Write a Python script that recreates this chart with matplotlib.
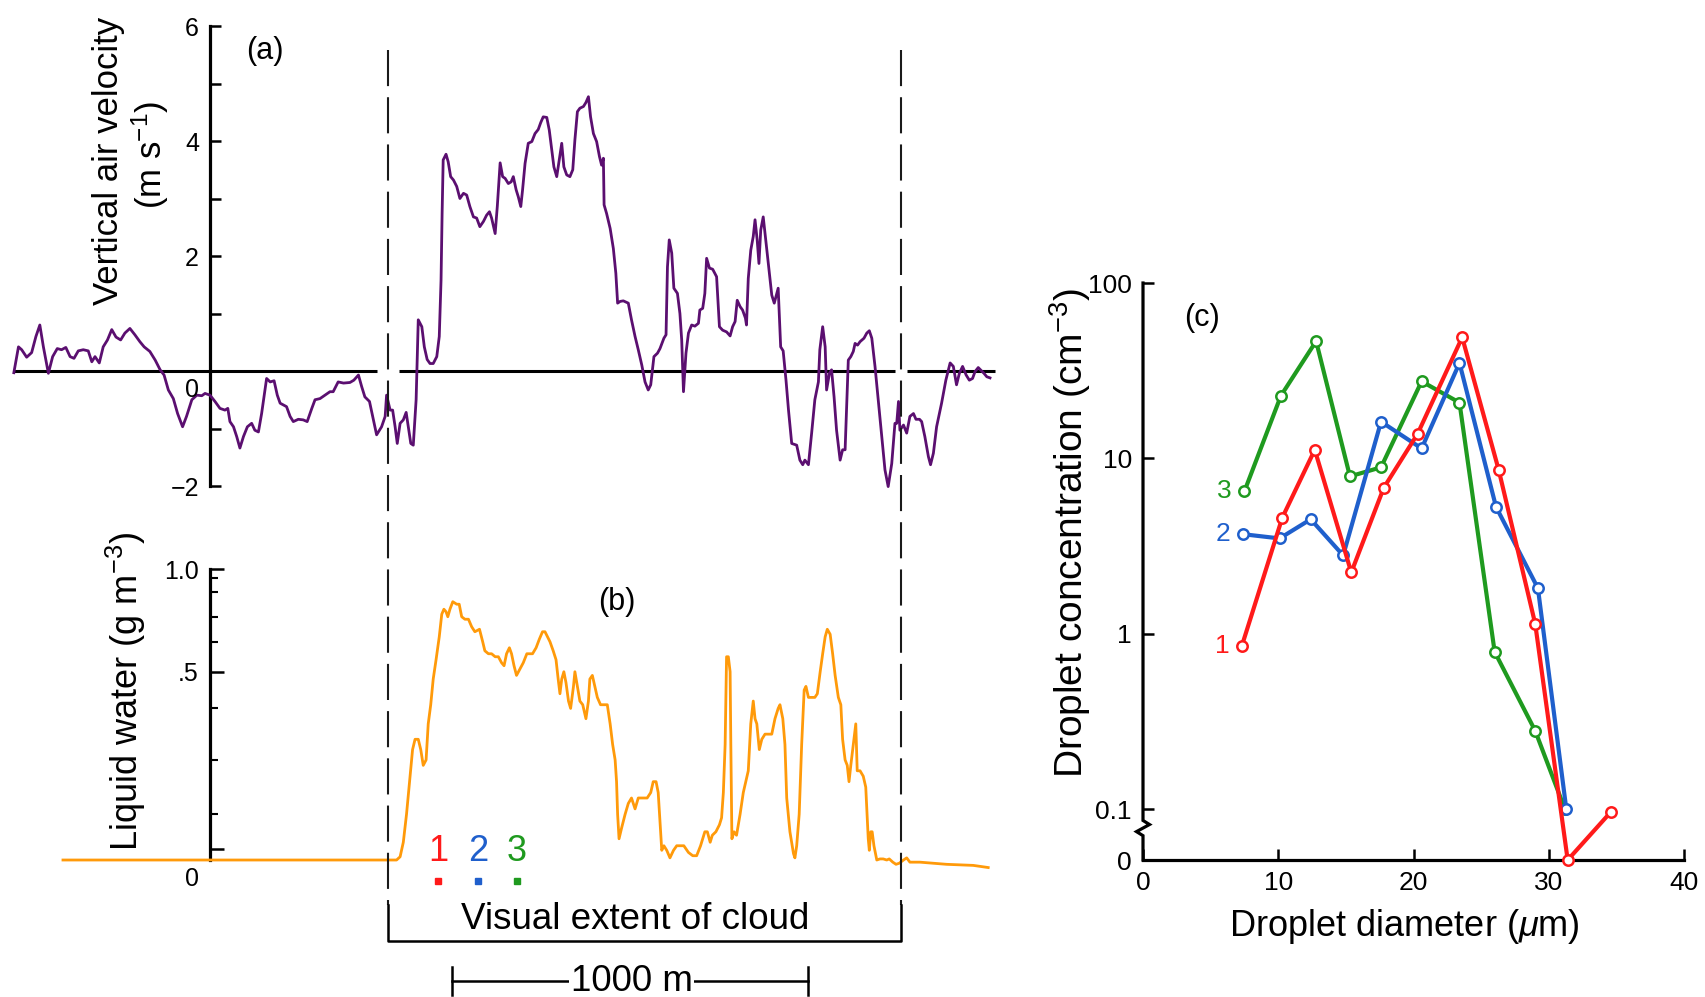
import numpy as np
import matplotlib
matplotlib.use("Agg")
import matplotlib.pyplot as plt
import matplotlib.transforms as mtransforms
from matplotlib.ticker import FixedLocator, FixedFormatter, NullLocator

plt.rcParams['font.family'] = ['Liberation Sans', 'DejaVu Sans']
plt.rcParams['mathtext.fontset'] = 'custom'
plt.rcParams['mathtext.rm'] = 'Liberation Sans'
plt.rcParams['mathtext.it'] = 'Liberation Sans:italic'
plt.rcParams['lines.scale_dashes'] = False

# ---------------- data ----------------
# (a) vertical air velocity along the flight track (distance in m, velocity in m/s)
w_dist = [-551, -538, -529, -515, -501, -489, -478, -468, -454, -442, -429, -417, -405, -393, -382,
          -370, -356, -342, -332, -323, -311, -300, -288, -276, -264, -251, -239, -225, -211, -197,
          -185, -169, -154, -140, -129, -117, -103, -91, -77, -66, -51, -37, -23, -14, 0,
          14, 28, 42, 50, 56, 66, 75, 84, 94, 105, 117, 126, 136, 145, 159,
          169, 180, 189, 197, 206, 215, 225, 234, 248, 262, 273, 286, 295, 309, 323,
          337, 346, 360, 375, 393, 404, 417, 426, 435, 448, 457, 468, 482, 492, 496,
          506, 513, 520, 526, 534, 543, 551, 557, 564, 571, 579, 585, 595, 602, 610,
          618, 627, 637, 644, 649, 652, 655, 663, 669, 676, 684, 693, 702, 712, 721,
          730, 740, 749, 758, 768, 777, 785, 791, 801, 807, 815, 822, 829, 838, 846,
          852, 860, 866, 873, 878, 885, 894, 904, 913, 922, 929, 936, 946, 953, 960,
          966, 974, 981, 988, 994, 1002, 1011, 1019, 1025, 1032, 1039, 1049, 1056, 1063, 1069,
          1077, 1086, 1094, 1100, 1105, 1107, 1114, 1124, 1133, 1140, 1145, 1152, 1161, 1175, 1184,
          1194, 1203, 1213, 1222, 1231, 1238, 1247, 1257, 1264, 1275, 1281, 1285, 1290, 1297, 1303,
          1313, 1320, 1325, 1330, 1337, 1344, 1353, 1362, 1372, 1376, 1384, 1390, 1395, 1403, 1412,
          1423, 1431, 1440, 1451, 1461, 1468, 1475, 1481, 1489, 1496, 1504, 1507, 1512, 1519, 1526,
          1531, 1537, 1542, 1547, 1554, 1560, 1568, 1578, 1585, 1592, 1596, 1603, 1610, 1618, 1625,
          1634, 1648, 1657, 1665, 1671, 1681, 1690, 1699, 1709, 1713, 1721, 1728, 1732, 1740, 1746,
          1753, 1760, 1770, 1777, 1784, 1793, 1800, 1807, 1812, 1819, 1826, 1837, 1845, 1852, 1859,
          1868, 1877, 1887, 1896, 1905, 1915, 1924, 1929, 1934, 1938, 1948, 1957, 1966, 1976, 1983,
          1993, 1999, 2008, 2018, 2024, 2032, 2041, 2055, 2067, 2079, 2088, 2097, 2105, 2114, 2124,
          2133, 2142, 2149, 2158, 2166, 2174, 2182, 2191]
w_vel = [-0.03, 0.42, 0.37, 0.24, 0.32, 0.60, 0.80, 0.42, -0.04, 0.25, 0.39, 0.37, 0.41, 0.25, 0.22,
         0.35, 0.37, 0.35, 0.16, 0.25, 0.14, 0.42, 0.54, 0.72, 0.59, 0.54, 0.66, 0.74, 0.63, 0.51,
         0.42, 0.34, 0.19, 0.02, -0.07, -0.33, -0.48, -0.74, -0.97, -0.79, -0.50, -0.42, -0.43, -0.39, -0.42,
         -0.53, -0.65, -0.68, -0.65, -0.88, -0.97, -1.14, -1.34, -1.14, -0.97, -0.91, -1.03, -1.06, -0.74, -0.13,
         -0.19, -0.17, -0.42, -0.56, -0.59, -0.62, -0.79, -0.88, -0.84, -0.85, -0.88, -0.65, -0.50, -0.48, -0.42,
         -0.36, -0.36, -0.19, -0.21, -0.20, -0.16, -0.07, -0.27, -0.45, -0.53, -0.79, -1.11, -0.97, -0.79, -0.42,
         -0.68, -0.68, -0.97, -1.26, -0.91, -0.85, -0.72, -0.97, -1.26, -1.29, -0.50, 0.89, 0.77, 0.42, 0.20,
         0.13, 0.13, 0.25, 0.60, 1.58, 2.74, 3.67, 3.77, 3.64, 3.38, 3.32, 3.21, 3.00, 3.09, 3.06,
         2.86, 2.68, 2.66, 2.51, 2.60, 2.71, 2.77, 2.66, 2.39, 2.86, 3.62, 3.38, 3.35, 3.26, 3.29,
         3.38, 3.15, 3.03, 2.86, 3.15, 3.61, 3.96, 3.99, 4.13, 4.20, 4.32, 4.42, 4.41, 4.19, 3.84,
         3.55, 3.38, 3.67, 3.96, 3.55, 3.41, 3.38, 3.50, 4.02, 4.51, 4.57, 4.60, 4.67, 4.77, 4.42,
         4.13, 3.99, 3.73, 3.58, 3.70, 2.89, 2.74, 2.48, 2.13, 1.70, 1.18, 1.21, 1.22, 1.18, 0.89,
         0.60, 0.37, 0.10, -0.19, -0.33, -0.24, 0.25, 0.31, 0.39, 0.57, 0.63, 1.81, 2.28, 2.05, 1.44,
         1.35, 1.00, 0.54, -0.36, 0.31, 0.66, 0.80, 0.78, 0.83, 1.06, 1.09, 1.35, 1.96, 1.79, 1.77,
         1.64, 0.77, 0.71, 0.68, 0.61, 0.77, 0.86, 1.23, 1.12, 1.06, 0.92, 0.80, 1.61, 2.10, 2.34,
         2.63, 2.28, 1.87, 2.45, 2.68, 2.34, 1.87, 1.32, 1.18, 1.35, 1.44, 0.42, 0.35, -0.16, -0.68,
         -1.26, -1.29, -1.55, -1.63, -1.55, -1.63, -1.08, -0.50, -0.19, 0.37, 0.77, 0.42, -0.33, -0.04, 0.02,
         -0.45, -1.03, -1.55, -1.37, -1.37, 0.19, 0.25, 0.34, 0.48, 0.45, 0.51, 0.57, 0.66, 0.70, 0.57,
         0.08, -0.50, -1.14, -1.72, -2.01, -1.61, -0.91, -0.91, -0.53, -1.03, -0.94, -1.08, -0.79, -0.74, -0.84,
         -0.84, -0.88, -1.14, -1.49, -1.63, -1.43, -0.97, -0.56, -0.16, 0.14, 0.08, -0.24, -0.04, 0.08, -0.07,
         -0.16, -0.13, -0.01, 0.06, 0.01, -0.04, -0.10, -0.12]

# (b) liquid water content (g m^-3) along the same track
lw_dist = [-413, 0, 200, 421, 506, 524, 534, 543, 552, 562, 569, 576, 585, 592, 599,
           607, 613, 620, 627, 635, 644, 651, 657, 663, 668, 674, 682, 693, 700, 707,
           716, 726, 735, 744, 757, 766, 772, 782, 791, 801, 810, 819, 826, 833, 841,
           847, 854, 861, 871, 880, 890, 899, 906, 916, 925, 934, 941, 948, 955, 964,
           972, 978, 983, 988, 994, 1000, 1007, 1013, 1021, 1025, 1032, 1039, 1047, 1056, 1063,
           1067, 1074, 1081, 1088, 1097, 1107, 1116, 1124, 1131, 1138, 1142, 1145, 1149, 1156, 1166,
           1175, 1184, 1194, 1203, 1213, 1220, 1228, 1238, 1245, 1253, 1259, 1264, 1269, 1275, 1283,
           1292, 1302, 1311, 1318, 1331, 1344, 1356, 1367, 1378, 1390, 1397, 1405, 1411, 1421, 1431,
           1437, 1442, 1447, 1451, 1456, 1461, 1463, 1466, 1472, 1479, 1489, 1498, 1505, 1512, 1519,
           1526, 1531, 1536, 1543, 1550, 1559, 1568, 1578, 1587, 1596, 1601, 1609, 1615, 1620, 1629,
           1639, 1643, 1648, 1655, 1662, 1669, 1674, 1681, 1690, 1699, 1706, 1714, 1721, 1728, 1734,
           1742, 1749, 1756, 1765, 1772, 1777, 1784, 1790, 1795, 1800, 1807, 1814, 1818, 1826, 1835,
           1842, 1845, 1849, 1852, 1856, 1860, 1865, 1873, 1882, 1891, 1901, 1908, 1918, 1927, 1936,
           1948, 1957, 1966, 1994, 2069, 2144, 2186]
lw_val = [0.0, 0.0, 0.0, 0.0, 0.0, 0.0, 0.03, 0.12, 0.20, 0.27, 0.32, 0.34, 0.34, 0.32, 0.29,
          0.30, 0.37, 0.41, 0.48, 0.54, 0.62, 0.71, 0.73, 0.72, 0.70, 0.73, 0.76, 0.75, 0.75, 0.70,
          0.69, 0.69, 0.66, 0.64, 0.65, 0.60, 0.57, 0.56, 0.56, 0.55, 0.55, 0.53, 0.52, 0.56, 0.58,
          0.56, 0.52, 0.49, 0.51, 0.53, 0.56, 0.56, 0.56, 0.58, 0.61, 0.64, 0.64, 0.62, 0.60, 0.57,
          0.54, 0.48, 0.44, 0.48, 0.50, 0.47, 0.42, 0.40, 0.46, 0.50, 0.46, 0.42, 0.41, 0.38, 0.42,
          0.48, 0.49, 0.46, 0.43, 0.41, 0.41, 0.41, 0.37, 0.33, 0.30, 0.26, 0.20, 0.13, 0.16, 0.20,
          0.22, 0.23, 0.21, 0.23, 0.23, 0.23, 0.23, 0.24, 0.26, 0.26, 0.24, 0.18, 0.09, 0.11, 0.09,
          0.02, 0.09, 0.11, 0.11, 0.11, 0.07, 0.04, 0.04, 0.11, 0.15, 0.15, 0.12, 0.14, 0.15, 0.17,
          0.19, 0.24, 0.33, 0.55, 0.55, 0.50, 0.33, 0.13, 0.15, 0.14, 0.20, 0.24, 0.26, 0.28, 0.37,
          0.42, 0.38, 0.37, 0.32, 0.34, 0.35, 0.35, 0.35, 0.38, 0.40, 0.41, 0.38, 0.33, 0.23, 0.15,
          0.06, 0.02, 0.11, 0.20, 0.33, 0.45, 0.46, 0.43, 0.43, 0.43, 0.44, 0.50, 0.56, 0.62, 0.65,
          0.63, 0.56, 0.49, 0.43, 0.41, 0.34, 0.30, 0.29, 0.26, 0.29, 0.33, 0.37, 0.28, 0.28, 0.27,
          0.25, 0.21, 0.13, 0.09, 0.15, 0.15, 0.11, 0.00, 0.01, 0.01, 0.00, 0.01, -0.02, -0.04, -0.03,
          0.00, 0.02, -0.02, -0.02, -0.04, -0.05, -0.07]

cloud_extent_m = [500, 1940]          # visual edges of the cloud
sample_pos_m = [640, 753, 862]        # droplet spectra sample locations
sample_labels = ['1', '2', '3']
scale_bar_m = [680, 1680]             # 1000 m scale bar

# (c) droplet size spectra
diam_1 = [7.3, 10.3, 12.7, 15.4, 17.8, 20.3, 23.6, 26.3, 29.0, 31.4, 34.6]
conc_1 = [0.85, 4.6, 11.2, 2.24, 6.8, 13.8, 49.0, 8.6, 1.14, 0.0, 0.095]
diam_2 = [7.4, 10.1, 12.4, 14.8, 17.6, 20.6, 23.4, 26.1, 29.2, 31.3]
conc_2 = [3.7, 3.5, 4.5, 2.8, 16.2, 11.4, 35.0, 5.3, 1.82, 0.10]
diam_3 = [7.5, 10.2, 12.8, 15.3, 17.6, 20.6, 23.4, 26.0, 29.0, 31.2]
conc_3 = [6.5, 22.8, 46.6, 7.9, 8.9, 27.5, 20.8, 0.79, 0.28, 0.10]

# ---------------- styling ----------------
W, H = 1706, 997
PURPLE = '#5b0f70'
ORANGE = '#ff9a0a'
RED = '#ff1a1a'
BLUE = '#1f5fcc'
GREEN = '#1f9a1f'
SERIES_COLORS = [RED, BLUE, GREEN]
NARROW = ['Liberation Sans Narrow', 'Liberation Sans', 'DejaVu Sans']

def fx(px):
    return px / W

def fy(py):
    return 1 - py / H

fig = plt.figure(figsize=(W / 100, H / 100), dpi=100)

# distance axis geometry: spine at px 210, 356 px per 1000 m, axes span px 0..1010
XL = ((0 - 210) * 1000 / 356, (1010 - 210) * 1000 / 356)

# ---------- panel (a) ----------
ax_a = fig.add_axes([0, fy(500), fx(1010), (500 - 20) / H])
ax_a.set_xlim(*XL)
ax_a.set_ylim((371 - 500) / 57.5, (371 - 20) / 57.5)
for s in ['top', 'right', 'bottom']:
    ax_a.spines[s].set_visible(False)
ax_a.spines['left'].set_position(('data', 0))
ax_a.spines['left'].set_bounds(-2, 6)
ax_a.spines['left'].set_linewidth(2.3)
ax_a.xaxis.set_visible(False)
ax_a.yaxis.set_major_locator(FixedLocator([-2, 2, 4, 6]))
ax_a.yaxis.set_major_formatter(FixedFormatter(['\u22122', '2', '4', '6']))
ax_a.yaxis.set_minor_locator(FixedLocator([-1, 1, 3, 5]))
ax_a.tick_params(axis='y', which='both', direction='in', length=8, width=1.8,
                 labelsize=18, pad=8)
ax_a.patch.set_alpha(0)

gap_l, gap_r = 30, 17
seg_start = [w_dist[0], cloud_extent_m[0] + gap_l, cloud_extent_m[1] + gap_r]
seg_end = [cloud_extent_m[0] - gap_l, cloud_extent_m[1] - gap_r, w_dist[-1] + 14]
ax_a.hlines([0] * len(seg_start), seg_start, seg_end, colors='black', linewidth=2.2, zorder=2)
ax_a.plot(w_dist, w_vel, color=PURPLE, linewidth=2.0, zorder=3, clip_on=False)
ax_a.annotate('0', xy=(0, 0), xytext=(-13, -14), textcoords='offset points',
              ha='center', va='center', fontsize=18)

# ---------- panel (b) ----------
LW_SCALE_VALUES = [-1.0, 0.0, 0.1, 0.2, 0.3, 0.4, 0.5, 0.6, 0.7, 0.8, 0.9, 1.0, 2.0]
LW_SCALE_POS = [-0.37, 0.0, 0.037, 0.157, 0.344, 0.521, 0.647, 0.750, 0.836, 0.922, 0.968, 1.0, 1.32]

def lw_fwd(v):
    return np.interp(v, LW_SCALE_VALUES, LW_SCALE_POS)

def lw_inv(p):
    return np.interp(p, LW_SCALE_POS, LW_SCALE_VALUES)

ax_b = fig.add_axes([0, fy(880), fx(1010), (880 - 540) / H])
ax_b.set_xlim(*XL)
ax_b.set_yscale('function', functions=(lw_fwd, lw_inv))
ax_b.set_ylim(-0.0687 / 0.37, 1.0 + 0.0997 / 0.32)
for s in ['top', 'right', 'bottom']:
    ax_b.spines[s].set_visible(False)
ax_b.spines['left'].set_position(('data', 0))
ax_b.spines['left'].set_bounds(0, 1.0)
ax_b.spines['left'].set_linewidth(2.3)
ax_b.xaxis.set_visible(False)
ax_b.yaxis.set_major_locator(FixedLocator([0.1, 0.5, 1.0]))
ax_b.yaxis.set_major_formatter(FixedFormatter(['', '.5', '1.0']))
ax_b.yaxis.set_minor_locator(FixedLocator([0.2, 0.3, 0.4, 0.6, 0.7, 0.8, 0.9]))
ax_b.tick_params(axis='y', which='major', direction='in', length=10, width=1.8,
                 labelsize=18, pad=8)
ax_b.tick_params(axis='y', which='minor', direction='in', length=6, width=1.5)
ax_b.patch.set_alpha(0)
ax_b.plot(lw_dist, lw_val, color=ORANGE, linewidth=2.0, zorder=3, clip_on=False)
ax_b.annotate('0', xy=(0, 0), xytext=(-13, -14), textcoords='offset points',
              ha='center', va='center', fontsize=18)

# ---------- cloud extent, samples, scale bar ----------
blend = mtransforms.blended_transform_factory(ax_a.transData, fig.transFigure)
for xe in cloud_extent_m:
    ln = plt.Line2D([xe, xe], [fy(50), fy(905)], transform=blend, color='#1a1a1a',
                    linewidth=1.5, linestyle=(0, (26, 8)))
    fig.add_artist(ln)
fig.add_artist(plt.Line2D([cloud_extent_m[0], cloud_extent_m[0], cloud_extent_m[1], cloud_extent_m[1]],
                          [fy(905), fy(941), fy(941), fy(905)], transform=blend,
                          color='black', linewidth=1.8))
fig.text(1195, fy(919), 'Visual extent of cloud', transform=blend, ha='center', va='center',
         fontsize=26.5, family=NARROW)

for xs, lab, col in zip(sample_pos_m, sample_labels, SERIES_COLORS):
    fig.text(xs, fy(851), lab, transform=blend, ha='center', va='center', fontsize=26,
             color=col, family=NARROW)
    fig.add_artist(plt.Line2D([xs], [fy(881)], transform=blend, marker='s', markersize=4,
                              color=col, linestyle='none'))

sb_y = fy(981)
fig.add_artist(plt.Line2D(scale_bar_m, [sb_y, sb_y], transform=blend, color='black', linewidth=1.8))
for xb in scale_bar_m:
    fig.add_artist(plt.Line2D([xb, xb], [fy(967), fy(995)], transform=blend,
                              color='black', linewidth=1.8))
fig.text(np.mean(scale_bar_m) + 5, sb_y, '1000 m', transform=blend, ha='center', va='center',
         fontsize=26.5, family=NARROW,
         bbox=dict(facecolor='white', edgecolor='none', pad=1))

# ---------- labels (a), (b) ----------
fig.text(fx(265), fy(51), '(a)', ha='center', va='center', fontsize=22)
fig.text(fx(617), fy(602), '(b)', ha='center', va='center', fontsize=22)
fig.text(fx(109), fy(161), 'Vertical air velocity', rotation=90, ha='center', va='center', fontsize=25)
fig.text(fx(150), fy(155), '(m s$^{-1}$)', rotation=90, ha='center', va='center', fontsize=25)
fig.text(fx(126), fy(691), 'Liquid water (g m$^{-3}$)', rotation=90, ha='center', va='center',
         fontsize=26)

# ---------- panel (c) ----------
ax_c = fig.add_axes([fx(1143), fy(860), (1684 - 1143) / W, (860 - 283) / H])
ax_c.set_yscale('symlog', linthresh=0.1, linscale=0.26)
ax_c.set_xlim(0, 40)
ax_c.set_ylim(0, 100)
for s in ['top', 'right', 'left']:
    ax_c.spines[s].set_visible(False)
ax_c.spines['bottom'].set_linewidth(2.3)
ax_c.xaxis.set_major_locator(FixedLocator([0, 10, 20, 30, 40]))
ax_c.yaxis.set_major_locator(FixedLocator([0, 0.1, 1, 10, 100]))
ax_c.yaxis.set_major_formatter(FixedFormatter(['0', '0.1', '1', '10', '100']))
ax_c.yaxis.set_minor_locator(NullLocator())
ax_c.xaxis.set_minor_locator(NullLocator())
ax_c.tick_params(axis='both', which='major', direction='in', length=8, width=1.8,
                 labelsize=19, pad=8)
ax_c.patch.set_alpha(0)

# left spine with axis break between 0.1 and 0
ybr = mtransforms.blended_transform_factory(ax_c.transAxes, ax_c.transData)
ax_c.plot([0, 0, 0.012, -0.012, 0, 0], [100, 0.078, 0.070, 0.056, 0.048, 0],
          transform=ybr, color='black', linewidth=2.3, clip_on=False, zorder=2,
          solid_joinstyle='miter')

for d, c, col, lab in [(diam_3, conc_3, GREEN, '3'), (diam_2, conc_2, BLUE, '2'), (diam_1, conc_1, RED, '1')]:
    ax_c.plot(d, c, color=col, linewidth=3.0, marker='o', markersize=7.5,
              markerfacecolor='white', markeredgecolor=col, markeredgewidth=1.8,
              clip_on=False, zorder=3)
    ax_c.annotate(lab, xy=(d[0], c[0]), xytext=(-9, 0), textcoords='offset points',
                  ha='right', va='center', color=col, fontsize=19)

fig.text(fx(1202), fy(318), '(c)', ha='center', va='center', fontsize=22)
fig.text(fx(1070), fy(533), 'Droplet concentration (cm$^{-3}$)', rotation=90,
         ha='center', va='center', fontsize=28)
fig.text(fx(1404), fy(927), 'Droplet diameter ($\\mu$m)', ha='center', va='center', fontsize=26)

fig.savefig('out.png', dpi=100)
